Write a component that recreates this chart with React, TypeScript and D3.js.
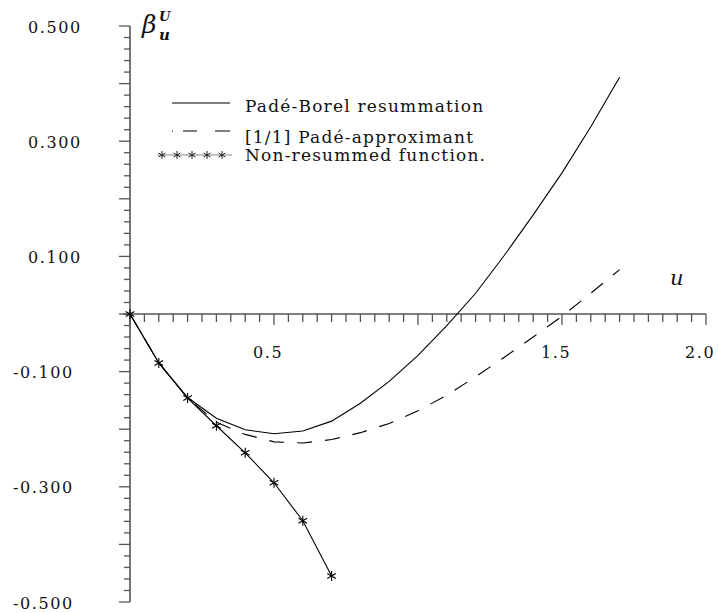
import React from "react";
import * as d3 from "d3";

// ---- data ----
const uGrid = [0, 0.1, 0.2, 0.3, 0.4, 0.5, 0.6, 0.7, 0.8, 0.9, 1.0, 1.1, 1.2, 1.3, 1.4, 1.5, 1.6, 1.7];
const padeBorel = [0, -0.085, -0.145, -0.181, -0.201, -0.208, -0.203, -0.186, -0.155, -0.117, -0.072, -0.02, 0.036, 0.102, 0.172, 0.245, 0.325, 0.411];
const pade11 = [0, -0.085, -0.146, -0.188, -0.209, -0.222, -0.224, -0.218, -0.206, -0.19, -0.168, -0.141, -0.109, -0.075, -0.04, -0.004, 0.036, 0.077];
const starU = [0, 0.1, 0.2, 0.3, 0.4, 0.5, 0.6, 0.7];
const nonResummed = [0, -0.085, -0.146, -0.194, -0.241, -0.293, -0.359, -0.455];

const xTickValues = [0.5, 1.5, 2.0];
const xTickLabels = ["0.5", "1.5", "2.0"];
const yTickValues = [0.5, 0.3, 0.1, -0.1, -0.3, -0.5];
const yTickLabels = ["0.500", "0.300", "0.100", "-0.100", "-0.300", "-0.500"];
const legendLabels = ["Padé-Borel resummation", "[1/1] Padé-approximant", "Non-resummed function."];

const FONT = "DejaVu Serif";
const AXIS = "#555";

function starPath(cx: number, cy: number, r: number) {
  const a = r * Math.cos(Math.PI / 6);
  const b = r * Math.sin(Math.PI / 6);
  return `M${cx},${cy - r}L${cx},${cy + r}M${cx - a},${cy - b}L${cx + a},${cy + b}M${cx - a},${cy + b}L${cx + a},${cy - b}`;
}

export default function App() {
  const x = d3.scaleLinear().domain([0, 2]).range([130, 706]);
  const y = d3.scaleLinear().domain([-0.5, 0.5]).range([602, 26]);

  const line = d3
    .line<[number, number]>()
    .x((d) => x(d[0]))
    .y((d) => y(d[1]));

  const solidPts = uGrid.map((u, i) => [u, padeBorel[i]] as [number, number]);
  const dashPts = uGrid.map((u, i) => [u, pade11[i]] as [number, number]);
  const starPts = starU.map((u, i) => [u, nonResummed[i]] as [number, number]);

  const xMinor = d3.range(0, 2.0001, 0.05);
  const yMinor = d3.range(-0.5, 0.5001, 0.02);

  const isMult = (v: number, step: number) => Math.abs(v / step - Math.round(v / step)) < 1e-6;

  const txt = (size: number, ls = 0, extra: React.CSSProperties = {}): React.CSSProperties => ({
    fontFamily: FONT,
    fontSize: size,
    letterSpacing: ls,
    ...extra,
  });

  return (
    <svg width={718} height={613} style={{ position: "absolute", left: 0, top: 0, background: "#fff" }}>
      {/* y ticks */}
      {yMinor.map((v, i) => {
        const major = isMult(v, 0.1);
        return (
          <line key={"yt" + i} x1={x(0) - (major ? 11 : 6)} x2={x(0)} y1={y(v)} y2={y(v)} stroke={AXIS} strokeWidth={1.3} />
        );
      })}
      {/* x ticks */}
      {xMinor.map((v, i) => {
        const major = isMult(v, 0.5);
        return (
          <line key={"xt" + i} x1={x(v)} x2={x(v)} y1={y(0)} y2={y(0) + (major ? 11 : 8)} stroke={AXIS} strokeWidth={1.3} />
        );
      })}
      {/* axes */}
      <line x1={x(0)} x2={x(0)} y1={y(0.5)} y2={y(-0.5)} stroke={AXIS} strokeWidth={1.6} />
      <line x1={x(0) - 7} x2={x(2)} y1={y(0)} y2={y(0)} stroke={AXIS} strokeWidth={1.6} />

      {/* y labels */}
      {yTickValues.map((v, i) => (
        <text key={"yl" + i} x={v < 0 ? 13 : 28} y={y(v) + 6.5} style={txt(16, 1.6)} fill="#111">
          {yTickLabels[i]}
        </text>
      ))}
      {/* x labels */}
      {xTickValues.map((v, i) => (
        <text key={"xl" + i} x={x(v) - 21} y={358} style={txt(16, 1.6)} fill="#111">
          {xTickLabels[i]}
        </text>
      ))}

      {/* axis titles */}
      <text x={670} y={285} style={txt(21, 0, { fontStyle: "italic" })} fill="#111">u</text>
      <text x={142} y={33} style={txt(25, 0, { fontStyle: "italic" })} fill="#111">β</text>
      <text x={159} y={21} style={txt(13, 0, { fontStyle: "italic", fontWeight: "bold" })} fill="#111">U</text>
      <text x={159} y={40} style={txt(15, 0, { fontStyle: "italic", fontWeight: "bold" })} fill="#111">u</text>

      {/* curves */}
      <path d={line(solidPts) || ""} fill="none" stroke="#000" strokeWidth={1.1} />
      <path d={line(dashPts) || ""} fill="none" stroke="#000" strokeWidth={1.1} strokeDasharray="15 13" />
      <path d={line(starPts) || ""} fill="none" stroke="#000" strokeWidth={1.1} />
      {starPts.map((p, i) => (
        <path key={"st" + i} d={starPath(x(p[0]), y(p[1]), 5)} stroke="#000" strokeWidth={1.1} fill="none" />
      ))}

      {/* legend */}
      <line x1={172} x2={230} y1={103} y2={103} stroke="#555" strokeWidth={1.3} />
      <path d="M172,131L173,131M183,131L197,131M215,131L230,131" stroke="#555" strokeWidth={1.3} fill="none" />
      <line x1={157} x2={232} y1={155} y2={155} stroke="#888" strokeWidth={1} />
      {[162, 177, 192, 207, 222].map((cx, i) => (
        <path key={"ls" + i} d={starPath(cx, 155, 4)} stroke="#222" strokeWidth={1} fill="none" />
      ))}
      {legendLabels.map((t, i) => (
        <text key={"lg" + i} x={245} y={[112, 143, 161][i]} style={txt(17, 1.2)} fill="#111">
          {t}
        </text>
      ))}
    </svg>
  );
}
